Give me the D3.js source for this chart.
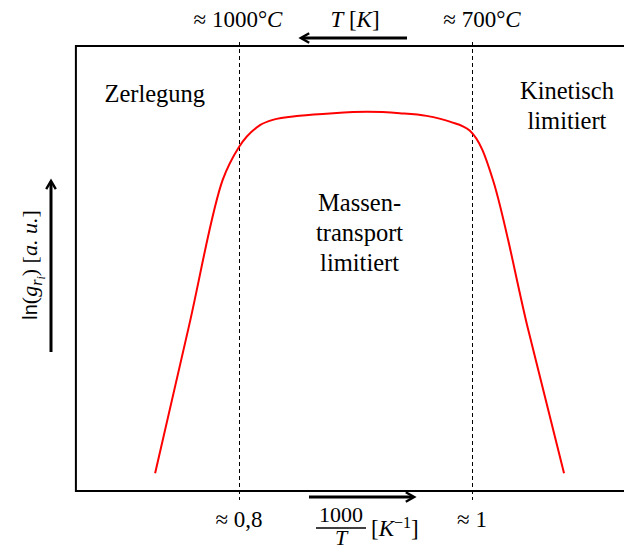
<!DOCTYPE html>
<html>
<head>
<meta charset="utf-8">
<script src="https://cdn.jsdelivr.net/npm/d3@7"></script>
<style>
  body { margin: 0; background: #fff; }
  text { font-family: "Liberation Serif", "Times New Roman", serif; fill: #000; }
</style>
</head>
<body>
<svg id="chart" width="624" height="552"></svg>
<script>
// curve: x in 1000/T [1/K], y in ln(g) arbitrary units (0..100)
const curveX = [0.728, 0.757, 0.786, 0.800, 0.818, 0.829, 0.852, 0.881, 0.910, 0.938, 0.961, 0.981, 0.998, 1.009, 1.018, 1.048, 1.079];
const curveY = [4.0, 37.0, 69.9, 77.3, 82.2, 83.4, 84.3, 84.9, 85.2, 84.9, 84.3, 83.0, 81.0, 76.6, 69.9, 36.5, 4.0];

// marked positions along the axis
const markX = [0.8, 1.0];
const bottomLabels = ['≈ 0,8', '≈ 1'];
const topLabels = [['≈ 1000°', 'C'], ['≈ 700°', 'C']];

// region labels
const regions = [
    { x: 0.6845, y: 87.5, lines: ['Zerlegung'], anchor: 'start' },
    { x: 0.9035, y: 63, lines: ['Massen-', 'transport', 'limitiert'], anchor: 'middle' },
    { x: 1.0815, y: 88.1, lines: ['Kinetisch', 'limitiert'], anchor: 'middle' }
];

const svg = d3.select('#chart');

const x = d3.scaleLinear().domain([0.8, 1.0]).range([239, 472]);
const y = d3.scaleLinear().domain([0, 100]).range([491, 46]);
const xMin = 0.66, xMax = 1.135;

// frame: top, left, bottom
const frame = svg.append('g').attr('stroke', '#000').attr('stroke-width', 2).attr('fill', 'none');
frame.append('path')
    .attr('d', `M${x(xMax)},${y(100)}H${x(xMin)}V${y(0)}H${x(xMax)}`);

// dashed guide lines
svg.append('g')
    .selectAll('line')
    .data(markX)
    .join('line')
    .attr('x1', (d) => x(d) + 0.5)
    .attr('x2', (d) => x(d) + 0.5)
    .attr('y1', y(100) - 4)
    .attr('y2', y(0) + 9)
    .attr('stroke', '#000')
    .attr('stroke-width', 1)
    .attr('stroke-dasharray', '4,3');

// the curve
const points = curveX.map((d, i) => [d, curveY[i]]);
svg.append('path')
    .datum(points)
    .attr('fill', 'none')
    .attr('stroke', '#ff0000')
    .attr('stroke-width', 2)
    .attr('d', d3.line().x((d) => x(d[0])).y((d) => y(d[1])).curve(d3.curveMonotoneX));

// arrows
const defs = svg.append('defs');
defs.append('marker')
    .attr('id', 'head')
    .attr('viewBox', '0 0 10 10')
    .attr('refX', 7)
    .attr('refY', 5)
    .attr('markerWidth', 4)
    .attr('markerHeight', 4)
    .attr('orient', 'auto')
    .append('path')
    .attr('d', 'M1,1L8,5L1,9')
    .attr('fill', 'none')
    .attr('stroke', '#000')
    .attr('stroke-width', 2);

const arrows = [
    [407, 38, 302, 38],
    [309, 497, 413, 497],
    [51, 352, 51, 182]
];
svg.append('g')
    .selectAll('line')
    .data(arrows)
    .join('line')
    .attr('x1', (d) => d[0])
    .attr('y1', (d) => d[1])
    .attr('x2', (d) => d[2])
    .attr('y2', (d) => d[3])
    .attr('stroke', '#000')
    .attr('stroke-width', 3)
    .attr('marker-end', 'url(#head)');

// bottom labels
svg.append('g')
    .selectAll('text')
    .data(markX)
    .join('text')
    .attr('x', (d) => x(d))
    .attr('y', 527)
    .attr('text-anchor', 'middle')
    .attr('font-size', 23)
    .text((d, i) => bottomLabels[i]);

// top labels
const tl = svg.append('g')
    .selectAll('text')
    .data(markX)
    .join('text')
    .attr('x', (d, i) => x(d) + (i === 1 ? 10 : -1))
    .attr('y', 27)
    .attr('text-anchor', 'middle')
    .attr('font-size', 23);
tl.append('tspan').text((d, i) => topLabels[i][0]);
tl.append('tspan').attr('font-style', 'italic').text((d, i) => topLabels[i][1]);

// T [K]
const tk = svg.append('text')
    .attr('x', 355)
    .attr('y', 27)
    .attr('text-anchor', 'middle')
    .attr('font-size', 23)
    .attr('font-style', 'italic');
tk.append('tspan').text('T');
tk.append('tspan').attr('font-style', 'normal').text(' [');
tk.append('tspan').text('K');
tk.append('tspan').attr('font-style', 'normal').text(']');

// 1000/T [K^-1]
const frac = svg.append('g').attr('font-size', 22);
frac.append('text').attr('x', 341).attr('y', 522).attr('text-anchor', 'middle').text('1000');
frac.append('line')
    .attr('x1', 316).attr('x2', 366)
    .attr('y1', 528).attr('y2', 528)
    .attr('stroke', '#000').attr('stroke-width', 1.3);
frac.append('text').attr('x', 341).attr('y', 545).attr('text-anchor', 'middle')
    .attr('font-style', 'italic').text('T');
const unit = frac.append('text').attr('x', 371).attr('y', 536).attr('font-size', 23);
unit.append('tspan').text('[');
unit.append('tspan').attr('font-style', 'italic').text('K');
unit.append('tspan').attr('font-size', 16).attr('dy', -8).text('−1');
unit.append('tspan').attr('dy', 8).text(']');

// y label
const yl = svg.append('text')
    .attr('transform', 'translate(37,265) rotate(-90)')
    .attr('text-anchor', 'middle')
    .attr('font-size', 22);
yl.append('tspan').attr('font-family', '"Liberation Sans", sans-serif').attr('font-size', 20).text('ln');
yl.append('tspan').text('(');
yl.append('tspan').attr('font-style', 'italic').text('g');
yl.append('tspan').attr('font-style', 'italic').attr('font-size', 16).attr('dy', 5).text('r');
yl.append('tspan').attr('font-style', 'italic').attr('font-size', 12).attr('dy', 3).text('i');
yl.append('tspan').attr('dy', -8).text(') [');
yl.append('tspan').attr('font-style', 'italic').text('a. u.');
yl.append('tspan').text(']');

// region labels
const reg = svg.append('g')
    .selectAll('text')
    .data(regions)
    .join('text')
    .attr('x', (d) => x(d.x))
    .attr('y', (d) => y(d.y))
    .attr('text-anchor', (d) => d.anchor)
    .attr('font-size', 24.5);
reg.selectAll('tspan')
    .data((d) => d.lines.map((t) => ({ t, x: x(d.x) })))
    .join('tspan')
    .attr('x', (d) => d.x)
    .attr('dy', (d, i) => (i === 0 ? 0 : 30))
    .text((d) => d.t);
</script>
</body>
</html>
